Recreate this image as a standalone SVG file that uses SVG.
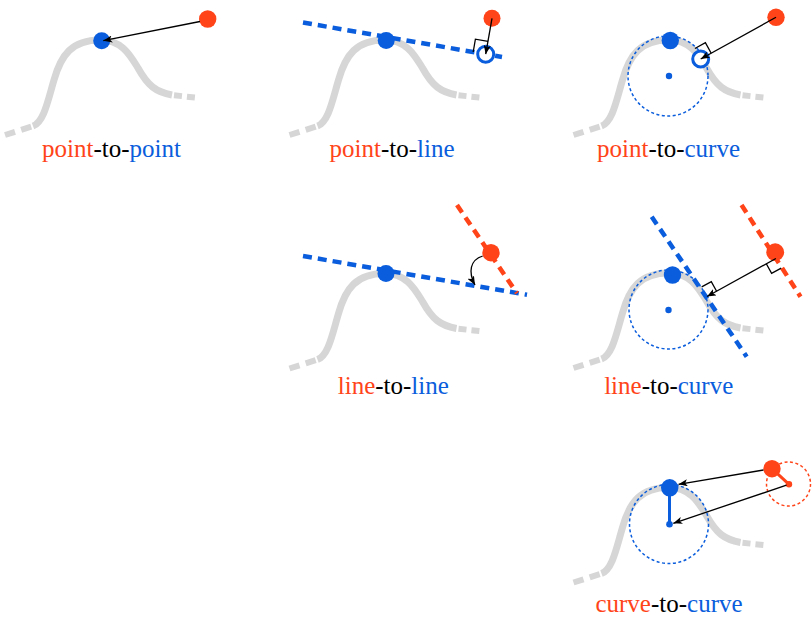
<svg xmlns="http://www.w3.org/2000/svg" width="812" height="620" viewBox="0 0 812 620">
<style>
.gc{fill:none;stroke:#d6d6d6;stroke-width:7;stroke-linecap:butt}
.gt{fill:none;stroke:#d6d6d6;stroke-width:6}
.bl{fill:none;stroke:#0a5ddc;stroke-width:4.5;stroke-dasharray:9 6}
.ol{fill:none;stroke:#ff4419;stroke-width:4.5;stroke-dasharray:9 6}
.dc{fill:none;stroke:#0a5ddc;stroke-width:1.5;stroke-dasharray:3 2.5}
.odc{fill:none;stroke:#ff4419;stroke-width:1.5;stroke-dasharray:3 2.5}
.bd{fill:#0a5ddc}
.od{fill:#ff4419}
.oc{fill:#fff;stroke:#0a5ddc;stroke-width:3}
.ra{fill:none;stroke:#000;stroke-width:1.3}
.ar{fill:none;stroke:#000;stroke-width:1.3;marker-end:url(#ah)}
.bs{stroke:#0a5ddc;stroke-width:3}
.os{stroke:#ff4419;stroke-width:3}
.lb{font-family:"Liberation Serif","Times New Roman",serif;font-size:25px;text-anchor:middle}
.o{fill:#ff4419}
.b{fill:#0a5ddc}
.k{fill:#000}
</style>
<defs>
<marker id="ah" viewBox="0 0 10 8" refX="10" refY="4" markerWidth="9" markerHeight="7.2" markerUnits="userSpaceOnUse" orient="auto">
<path d="M0,0 L10,4 L0,8 L2.5,4 z" fill="#000"/>
</marker>
<g id="bump">
<path class="gc" d="M33,126 C44,122 48,100 54,80 C61,55 72,40 100,40 C122,40 130,55 138,68 C148,86 156,92 172,95"/>
<line class="gt" x1="5" y1="135" x2="33" y2="126" stroke-dasharray="10.5 6.5"/>
<line class="gt" x1="174" y1="95.3" x2="195" y2="97.5" stroke-dasharray="8 5"/>
</g>
</defs>

<g id="curves">
<use href="#bump"/>
<use href="#bump" transform="translate(284.5,0)"/>
<use href="#bump" transform="translate(568.5,0)"/>
<use href="#bump" transform="translate(284.5,233.5)"/>
<use href="#bump" transform="translate(568.5,233)"/>
<use href="#bump" transform="translate(568.5,447.5)"/>
</g>

<g id="guides">
<line class="bl" x1="303" y1="22.5" x2="502" y2="57"/>
<circle class="dc" cx="668" cy="76" r="40"/>
<line class="bl" x1="303" y1="256" x2="527" y2="294.8"/>
<line class="ol" x1="457" y1="205" x2="517" y2="293.3"/>
<circle class="dc" cx="668.5" cy="309.5" r="39.5"/>
<line class="bl" x1="651.7" y1="216.7" x2="746.7" y2="356.7"/>
<line class="ol" x1="741.5" y1="205" x2="800.5" y2="296.7"/>
<circle class="dc" cx="669" cy="524" r="39.5"/>
<circle class="odc" cx="788.5" cy="484" r="22"/>
</g>

<g id="right-angles">
<polyline class="ra" points="473.2,52 475.4,39.2 488,41.4"/>
<polyline class="ra" points="694.9,48.5 705.4,42.7 711.2,53.2"/>
<polyline class="ra" points="766.3,263.8 771.6,273.4 781.2,268.1"/>
<polyline class="ra" points="701.7,286.9 711.3,281.6 716.6,291.2"/>
</g>

<g id="p2-foot"><circle class="oc" cx="485.7" cy="54.2" r="8"/></g>
<g id="p3-foot"><circle class="oc" cx="700.7" cy="59" r="8"/></g>

<g id="radii">
<line class="bs" x1="669.5" y1="487.8" x2="669.5" y2="524.3"/>
<line class="os" x1="772" y1="468.7" x2="789" y2="484.3"/>
</g>

<g id="p1-blue"><circle class="bd" cx="101.7" cy="40.8" r="8.5"/></g>
<g id="p1-orange"><circle class="od" cx="207.7" cy="19" r="8.7"/></g>
<g id="p2-blue"><circle class="bd" cx="386.2" cy="40.5" r="8.5"/></g>
<g id="p2-orange"><circle class="od" cx="492" cy="18.3" r="8.5"/></g>
<g id="p3-blue"><circle class="bd" cx="670.3" cy="40.5" r="8.7"/></g>
<g id="p3-center"><circle class="bd" cx="669" cy="76" r="3.2"/></g>
<g id="p3-orange"><circle class="od" cx="776" cy="17.3" r="8.7"/></g>
<g id="p5-blue"><circle class="bd" cx="386" cy="273.5" r="8.5"/></g>
<g id="p5-orange"><circle class="od" cx="491" cy="252.7" r="8.7"/></g>
<g id="p6-blue"><circle class="bd" cx="672.5" cy="275" r="8.7"/></g>
<g id="p6-center"><circle class="bd" cx="668.5" cy="310" r="3.2"/></g>
<g id="p6-orange"><circle class="od" cx="775.2" cy="252.2" r="8.9"/></g>
<g id="p9-blue"><circle class="bd" cx="669.7" cy="487.8" r="8.7"/></g>
<g id="p9-center"><circle class="bd" cx="669.5" cy="524.3" r="3.3"/></g>
<g id="p9-orange"><circle class="od" cx="772" cy="468.7" r="8.7"/></g>
<g id="p9-ocenter"><circle class="od" cx="789" cy="484.3" r="3.2"/></g>

<g id="connectors">
<line class="ar" x1="200" y1="21.5" x2="103.3" y2="40.7"/>
<line class="ar" x1="492" y1="18.3" x2="485.7" y2="54.2"/>
<line class="ar" x1="776" y1="17.3" x2="700.7" y2="59"/>
<path class="ar" d="M482.7,256 C470,260 468,272 475,285"/>
<line class="ar" x1="775.9" y1="258.5" x2="707" y2="296.5"/>
<line class="ar" x1="763.5" y1="470" x2="678.5" y2="484.3"/>
<line class="ar" x1="786.5" y1="485.2" x2="673.3" y2="523.3"/>
</g>

<g id="labels">
<text class="lb" x="111.5" y="157"><tspan class="o">point</tspan><tspan class="k">-to-</tspan><tspan class="b">point</tspan></text>
<text class="lb" x="392" y="157"><tspan class="o">point</tspan><tspan class="k">-to-</tspan><tspan class="b">line</tspan></text>
<text class="lb" x="668.5" y="157"><tspan class="o">point</tspan><tspan class="k">-to-</tspan><tspan class="b">curve</tspan></text>
<text class="lb" x="393.3" y="394"><tspan class="o">line</tspan><tspan class="k">-to-</tspan><tspan class="b">line</tspan></text>
<text class="lb" x="668.7" y="394"><tspan class="o">line</tspan><tspan class="k">-to-</tspan><tspan class="b">curve</tspan></text>
<text class="lb" x="669" y="611.5"><tspan class="o">curve</tspan><tspan class="k">-to-</tspan><tspan class="b">curve</tspan></text>
</g>
</svg>
